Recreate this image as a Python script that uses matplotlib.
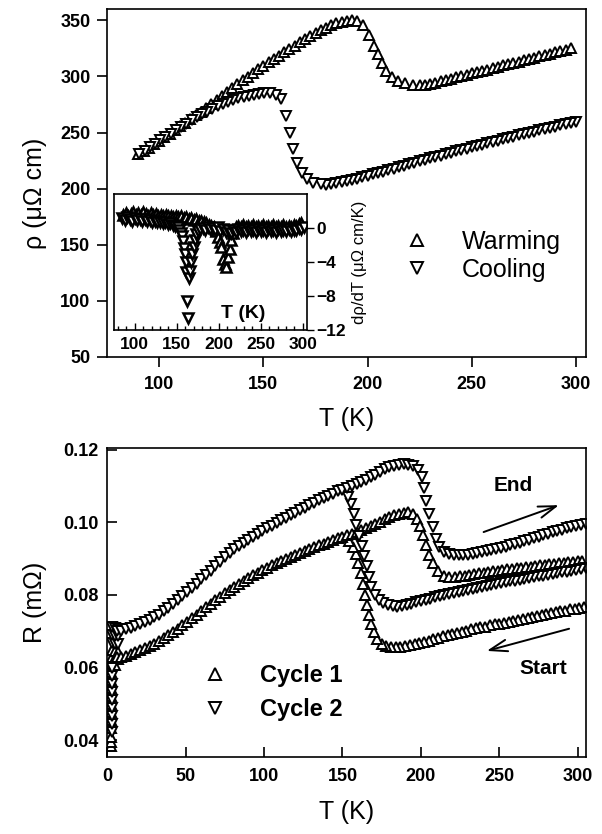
import numpy as np
import matplotlib
matplotlib.use("Agg")
import matplotlib.pyplot as plt
from matplotlib.ticker import MultipleLocator, FormatStrFormatter

plt.rcParams["font.family"] = ["Liberation Sans", "DejaVu Sans"]

# --- top panel: resistivity (T [K], rho [uOhm cm]) ---------------------------
warming = [(90, 230.5), (92.5, 233.5), (95, 236.5), (97.5, 239.5), (100, 242.5), (102.5, 245.8),
           (105, 249), (107.5, 252.3), (110, 255.5), (112.5, 258.8), (115, 262), (117.5, 265.3),
           (120, 268.5), (122.5, 272), (125, 275.5), (127.5, 279), (130, 282.5), (132.5, 286),
           (135, 289.5), (137.5, 293), (140, 296.5), (142.5, 299.8), (145, 303), (147.5, 306.3),
           (150, 309.5), (152.5, 312.5), (155, 315.5), (157.5, 318.5), (160, 321.5), (162.5, 324.5),
           (165, 327.5), (167.5, 330.3), (170, 333), (172.5, 335.8), (175, 338.5), (177.5, 341),
           (180, 343.5), (182.5, 345.5), (185, 347.3), (187.5, 348.7), (190, 349.7), (192.5, 350),
           (195, 349.5), (198, 346), (200.5, 337), (203, 327), (205, 320), (207, 312), (209, 305),
           (211.5, 299.5), (214.5, 296), (218, 293.8), (222, 292.8), (225, 292.5), (227.5, 292.8),
           (230, 293.4), (232.5, 294.5), (235, 295.7), (237.5, 296.8), (240, 298), (242.5, 299.2),
           (245, 300.4), (247.5, 301.5), (250, 302.7), (252.5, 303.9), (255, 305.1), (257.5, 306.2),
           (260, 307.4), (262.5, 308.6), (265, 309.8), (267.5, 311), (270, 312.1), (272.5, 313.3),
           (275, 314.5), (277.5, 315.7), (280, 316.8), (282.5, 318), (285, 319.2), (287.5, 320.4),
           (290, 321.5), (292.5, 322.7), (295, 323.9), (297.5, 325)]

cooling = [(300, 259.5), (297.5, 258.5), (295, 257.4), (292.5, 256.4), (290, 255.3), (287.5, 254.2),
           (285, 253.1), (282.5, 252), (280, 250.9), (277.5, 249.8), (275, 248.7), (272.5, 247.5),
           (270, 246.4), (267.5, 245.2), (265, 244), (262.5, 242.8), (260, 241.6), (257.5, 240.4),
           (255, 239.2), (252.5, 238), (250, 236.8), (247.5, 235.6), (245, 234.4), (242.5, 233.2),
           (240, 232), (237.5, 230.8), (235, 229.5), (232.5, 228.3), (230, 227), (227.5, 225.7),
           (225, 224.4), (222.5, 223.1), (220, 221.8), (217.5, 220.5), (215, 219.2), (212.5, 217.9),
           (210, 216.6), (207.5, 215.3), (205, 214), (202.5, 212.7), (200, 211.4), (197.5, 210.1),
           (195, 208.9), (192.5, 207.7), (190, 206.6), (187.5, 205.6), (185, 204.8), (182.5, 204.1),
           (180, 203.7), (177.5, 203.8), (174, 205.5), (171, 208.5), (168.4, 214), (166, 223),
           (164.4, 235), (162.8, 250), (161, 265), (158.5, 280), (156, 283.8), (153, 285),
           (150.5, 285), (148, 284.6), (145.5, 283.9), (143, 283), (140.5, 281.9), (138, 280.6),
           (135.5, 279.1), (133, 277.4), (130.5, 275.5), (128, 273.4), (125.5, 271.1), (123, 268.7),
           (120.5, 266.2), (118, 263.5), (115.5, 260.8), (113, 258), (110.5, 255), (108, 252),
           (105.5, 249), (103, 246), (100.5, 243), (98, 240), (95.5, 237), (93, 234), (90.5, 231)]

# --- inset: d rho / dT (T [K], uOhm cm/K) ------------------------------------
dwarm = [(86, 1.6), (89, 1.8), (92, 1.5), (95, 1.7), (98, 1.9), (101, 1.6), (104, 1.8), (107, 1.6),
         (110, 1.9), (113, 1.7), (116, 1.5), (119, 1.8), (122, 1.6), (125, 1.7), (128, 1.5),
         (131, 1.6), (134, 1.4), (137, 1.6), (140, 1.4), (143, 1.5), (146, 1.3), (149, 1.5),
         (152, 1.3), (155, 1.4), (158, 1.2), (161, 1.3), (164, 1.1), (167, 1.2), (170, 1.0),
         (173, 1.1), (176, 0.9), (179, 0.9), (182, 0.8), (185, 0.6), (188, 0.4), (191, 0.3),
         (194, 0.1), (197, -0.3), (199.5, -1.0), (201.2, -1.6), (203.2, -2.2), (205.1, -3.6),
         (207, -4.2), (209.1, -4.6), (211, -3.4), (213, -2.4), (215, -1.4), (217, -0.6),
         (220, 0.1), (223, 0.3), (226, 0.2), (229, 0.4), (232, 0.1), (235, 0.3), (238, 0.2),
         (241, 0.4), (244, 0.1), (247, 0.3), (250, 0.2), (253, 0.4), (256, 0.2), (259, 0.3),
         (262, 0.1), (265, 0.4), (268, 0.2), (271, 0.3), (274, 0.2), (277, 0.4), (280, 0.1),
         (283, 0.3), (286, 0.2), (289, 0.4), (292, 0.3), (295, 0.5), (298, 0.6)]

dcool = [(85, 1.2), (88, 1.0), (91, 1.3), (94, 1.1), (97, 0.9), (100, 1.2), (103, 1.0), (106, 1.1),
         (109, 0.9), (112, 1.1), (115, 0.9), (118, 1.0), (121, 0.8), (124, 0.9), (127, 0.7),
         (130, 0.8), (133, 0.6), (136, 0.7), (139, 0.5), (142, 0.6), (145, 0.4), (148, 0.3),
         (151, 0.1), (153, -0.2), (154.5, -0.5), (156, -0.9), (157.5, -1.5), (158.5, -2.3),
         (159.5, -3.0), (160.5, -4.0), (161.5, -5.2), (162.5, -8.5), (163.5, -10.5), (164.5, -5.8),
         (165.5, -5.0), (167, -4.0), (168.5, -3.0), (170, -2.2), (171.5, -1.4), (173, -0.7),
         (175, -0.3), (178, -0.1), (181, 0.0), (184, -0.2), (187, 0.1), (190, -0.1), (193, 0.0),
         (196, -0.2), (199, 0.1), (202, -0.3), (205, -0.1), (208, -0.4), (211, -0.2), (214, -0.5),
         (217, -0.2), (220, -0.4), (223, -0.1), (226, -0.3), (229, -0.2), (232, -0.4), (235, -0.1),
         (238, -0.3), (241, -0.2), (244, -0.4), (247, -0.1), (250, -0.3), (253, -0.2), (256, -0.4),
         (259, -0.1), (262, -0.3), (265, -0.2), (268, -0.4), (271, -0.1), (274, -0.3), (277, -0.2),
         (280, -0.3), (283, -0.1), (286, -0.3), (289, -0.2), (292, -0.2), (295, 0.0), (298, -0.1),
         (302, 0.1)]

# --- bottom panel: resistance (T [K], R [mOhm]) ------------------------------
# cycle 1 (up triangles)
c1_cool = [(304, 0.0767), (301, 0.0765), (298, 0.0762), (295, 0.0760), (292, 0.0757), (289, 0.0755),
           (286, 0.0752), (283, 0.0750), (280, 0.0747), (277, 0.0744), (274, 0.0742), (271, 0.0739),
           (268, 0.0737), (265, 0.0734), (262, 0.0731), (259, 0.0729), (256, 0.0726), (253, 0.0724),
           (250, 0.0721), (247, 0.0719), (244, 0.0716), (241, 0.0713), (238, 0.0711), (235, 0.0708),
           (232, 0.0705), (229, 0.0702), (226, 0.0699), (223, 0.0696), (220, 0.0693), (217, 0.0689),
           (214, 0.0686), (211, 0.0682), (208, 0.0678), (205, 0.0674), (202, 0.0670), (199, 0.0667),
           (196, 0.0664), (193, 0.0661), (190, 0.0659), (187, 0.0657), (184, 0.0656), (181, 0.0656),
           (178, 0.0659), (175, 0.0666), (172, 0.0680), (170, 0.0698), (168.3, 0.0720),
           (167, 0.0745), (165.8, 0.0772), (164.5, 0.0800), (163.2, 0.0830), (161.8, 0.0860),
           (160.2, 0.0888), (158.5, 0.0912), (156.5, 0.0932), (154, 0.0948)]

c1_low = [(2.5, 0.0385), (2.5, 0.0395), (2.5, 0.0410), (2.5, 0.0433), (2.5, 0.0455), (2.5, 0.0477),
          (2.5, 0.0500), (2.5, 0.0522), (2.5, 0.0544), (2.5, 0.0566), (2.5, 0.0589),
          (3, 0.0610), (5, 0.0608), (3, 0.0628), (5, 0.0626), (7, 0.0624), (3, 0.0648),
          (5, 0.0646), (7, 0.0644),
          (6, 0.0628), (9, 0.0630), (12, 0.0633), (15, 0.0638), (18, 0.0643), (21, 0.0648),
          (24, 0.0654), (27, 0.0660), (30, 0.0666), (33, 0.0673), (36, 0.0681), (39, 0.0689),
          (42, 0.0698), (45, 0.0707), (48, 0.0716), (51, 0.0726), (54, 0.0736), (57, 0.0746),
          (60, 0.0756), (63, 0.0766), (66, 0.0776), (69, 0.0785), (72, 0.0795), (75, 0.0804),
          (78, 0.0813), (81, 0.0822), (84, 0.0831), (87, 0.0839), (90, 0.0847), (93, 0.0854),
          (96, 0.0861), (99, 0.0868), (102, 0.0875), (105, 0.0881), (108, 0.0887), (111, 0.0893),
          (114, 0.0899), (117, 0.0905), (120, 0.0910), (123, 0.0915), (126, 0.0920), (129, 0.0926),
          (132, 0.0931), (135, 0.0936), (138, 0.0941), (141, 0.0946), (144, 0.0951), (147, 0.0956),
          (150, 0.0960), (153, 0.0964)]

c1_warm = [(156, 0.0968), (159, 0.0973), (162, 0.0978), (165, 0.0984), (168, 0.0990), (171, 0.0996),
           (174, 0.1002), (177, 0.1008), (180, 0.1014), (183, 0.1019), (186, 0.1023), (189, 0.1026),
           (192, 0.1027), (195, 0.1024), (197.5, 0.1010), (199.5, 0.0990), (201.5, 0.0965),
           (203.5, 0.0937), (205.5, 0.0910), (208, 0.0887), (211, 0.0866), (214.5, 0.0853),
           (218, 0.0850), (222, 0.0850), (225, 0.0851), (228, 0.0853), (231, 0.0855), (234, 0.0857),
           (237, 0.0859), (240, 0.0861), (243, 0.0863), (246, 0.0865), (249, 0.0866), (252, 0.0868),
           (255, 0.0870), (258, 0.0872), (261, 0.0873), (264, 0.0875), (267, 0.0877), (270, 0.0878),
           (273, 0.0880), (276, 0.0881), (279, 0.0883), (282, 0.0884), (285, 0.0886), (288, 0.0887),
           (291, 0.0888), (294, 0.0890), (297, 0.0891), (300, 0.0892), (303, 0.0893)]

# cycle 2 (down triangles)
c2_cool = [(305, 0.0873), (302, 0.0871), (299, 0.0869), (296, 0.0867), (293, 0.0864), (290, 0.0862),
           (287, 0.0860), (284, 0.0858), (281, 0.0855), (278, 0.0853), (275, 0.0851), (272, 0.0849),
           (269, 0.0846), (266, 0.0844), (263, 0.0842), (260, 0.0839), (257, 0.0837), (254, 0.0835),
           (251, 0.0832), (248, 0.0830), (245, 0.0827), (242, 0.0825), (239, 0.0822), (236, 0.0820),
           (233, 0.0817), (230, 0.0814), (227, 0.0812), (224, 0.0809), (221, 0.0806), (218, 0.0803),
           (215, 0.0800), (212, 0.0797), (209, 0.0794), (206, 0.0790), (203, 0.0787), (200, 0.0783),
           (197, 0.0780), (194, 0.0776), (191, 0.0773), (188, 0.0770), (185, 0.0768), (182, 0.0769),
           (179, 0.0773), (176, 0.0779), (173, 0.0787), (170.5, 0.0800), (168.5, 0.0822),
           (167, 0.0850), (165.5, 0.0880), (164, 0.0908), (162.3, 0.0935), (160.5, 0.0962),
           (158.8, 0.0992), (157.2, 0.1022), (155.5, 0.1050), (153.5, 0.1070)]

c2_low = [(3, 0.0422), (3, 0.0444), (3, 0.0466), (3, 0.0488), (3, 0.0510), (3, 0.0533),
          (3, 0.0555), (3, 0.0577), (3, 0.0600),
          (3, 0.0668), (5, 0.0666), (7, 0.0664), (3, 0.0690), (5, 0.0688), (7, 0.0686),
          (3, 0.0712), (5, 0.0710), (7, 0.0706),
          (6, 0.0700), (9, 0.0702), (12, 0.0705), (15, 0.0709), (18, 0.0714), (21, 0.0719),
          (24, 0.0725), (27, 0.0731), (30, 0.0738), (33, 0.0746), (36, 0.0755), (39, 0.0765),
          (42, 0.0775), (45, 0.0786), (48, 0.0797), (51, 0.0808), (54, 0.0819), (57, 0.0831),
          (60, 0.0843), (63, 0.0855), (66, 0.0867), (69, 0.0879), (72, 0.0891), (75, 0.0905),
          (78, 0.0916), (81, 0.0926), (84, 0.0935), (87, 0.0944), (90, 0.0952), (93, 0.0960),
          (96, 0.0968), (99, 0.0976), (102, 0.0984), (105, 0.0991), (108, 0.0998), (111, 0.1005),
          (114, 0.1012), (117, 0.1019), (120, 0.1026), (123, 0.1033), (126, 0.1040), (129, 0.1047),
          (132, 0.1054), (135, 0.1061), (138, 0.1067), (141, 0.1073), (144, 0.1079), (147, 0.1085),
          (150, 0.1090)]

c2_warm = [(153, 0.1095), (156, 0.1100), (159, 0.1105), (162, 0.1111), (165, 0.1117), (168, 0.1124),
           (171, 0.1131), (174, 0.1139), (177, 0.1146), (180, 0.1152), (183, 0.1156), (186, 0.1158),
           (189, 0.1159), (192, 0.1158), (195, 0.1155), (198, 0.1145), (200.5, 0.1125),
           (202, 0.1093), (203.5, 0.1058), (205.5, 0.1022), (207.5, 0.0987), (209.5, 0.0955),
           (211.5, 0.0933), (214.5, 0.0919), (218, 0.0913), (221, 0.0910), (224, 0.0909),
           (227, 0.0909), (230, 0.0910), (233, 0.0912), (236, 0.0914), (239, 0.0917), (242, 0.0920),
           (245, 0.0923), (248, 0.0926), (251, 0.0929), (254, 0.0933), (257, 0.0936), (260, 0.0940),
           (263, 0.0944), (266, 0.0948), (269, 0.0952), (272, 0.0956), (275, 0.0960), (278, 0.0964),
           (281, 0.0968), (284, 0.0972), (287, 0.0976), (290, 0.0979), (293, 0.0983), (296, 0.0986),
           (299, 0.0989), (302, 0.0992), (305, 0.0995)]

MK = dict(ls="none", mfc="white", mec="black", ms=7.6, mew=1.4, clip_on=True)
MK_IN = dict(MK, ms=7.0, mew=1.8)


def xy(pairs):
    a = np.array(pairs, dtype=float)
    return a[:, 0], a[:, 1]


def bold_ticks(ax, size=13):
    for lbl in ax.get_xticklabels() + ax.get_yticklabels():
        lbl.set_fontweight("bold")
        lbl.set_fontsize(size)


fig = plt.figure(figsize=(6.02, 8.34), dpi=100)
ax1 = fig.add_axes([0.178, 0.572, 0.796, 0.417])
ax2 = fig.add_axes([0.178, 0.0927, 0.796, 0.3696])
axin = fig.add_axes([0.189, 0.604, 0.321, 0.163])

for ax in (ax1, ax2, axin):
    for sp in ax.spines.values():
        sp.set_linewidth(1.2)

# =============================================================================
# top panel
# =============================================================================
hw, = ax1.plot(*xy(warming), marker="^", **MK)
hc, = ax1.plot(*xy(cooling), marker="v", **MK)
ax1.set_xlim(75, 305)
ax1.set_ylim(50, 360)
ax1.set_xticks([100, 150, 200, 250, 300])
ax1.set_yticks([50, 100, 150, 200, 250, 300, 350])
ax1.tick_params(direction="out", length=7, width=1.2, pad=7)
ax1.tick_params(axis="y", pad=5)
bold_ticks(ax1)
ax1.set_xlabel("T (K)", fontsize=18)
ax1.set_ylabel("ρ (μΩ cm)", fontsize=18)
ax1.xaxis.set_label_coords(0.5, -0.145)
ax1.yaxis.set_label_coords(-0.125, 0.47)
ax1.legend([hw, hc], ["Warming", "Cooling"], loc="upper left", bbox_to_anchor=(0.62, 0.365),
           frameon=False, fontsize=18, handlelength=1.0, handletextpad=1.3, labelspacing=0.15,
           borderpad=0, borderaxespad=0, markerscale=1.15, numpoints=1)

# inset
axin.plot(*xy(dwarm), marker="^", **MK_IN)
axin.plot(*xy(dcool), marker="v", **MK_IN)
axin.set_xlim(75, 305)
axin.set_ylim(-12, 4)
axin.set_xticks([100, 150, 200, 250, 300])
axin.xaxis.set_minor_locator(MultipleLocator(10))
axin.set_yticks([0, -4, -8, -12])
axin.yaxis.tick_right()
axin.yaxis.set_label_position("right")
axin.tick_params(axis="x", which="major", direction="in", length=5, width=1.0, pad=5)
axin.tick_params(axis="x", which="minor", direction="in", length=3, width=1.0)
axin.tick_params(axis="y", direction="out", length=5, width=1.0, pad=2)
bold_ticks(axin, 12.5)
axin.set_ylabel("dρ/dT (μΩ cm/K)", fontsize=12, labelpad=4)
axin.text(0.668, 0.125, "T (K)", transform=axin.transAxes, ha="center", va="center",
          fontsize=14, fontweight="bold")

# =============================================================================
# bottom panel
# =============================================================================
h1, = ax2.plot(*xy(c1_cool), marker="^", **MK)
ax2.plot(*xy(c1_low), marker="^", **MK)
ax2.plot(*xy(c1_warm), marker="^", **MK)
h2, = ax2.plot(*xy(c2_cool), marker="v", **MK)
ax2.plot(*xy(c2_low), marker="v", **MK)
ax2.plot(*xy(c2_warm), marker="v", **MK)
ax2.set_xlim(0, 305.5)
ax2.set_ylim(0.0355, 0.1203)
ax2.set_xticks([0, 50, 100, 150, 200, 250, 300])
ax2.set_yticks([0.04, 0.06, 0.08, 0.10, 0.12])
ax2.yaxis.set_major_formatter(FormatStrFormatter("%.2f"))
ax2.tick_params(direction="in", length=7, width=1.2, pad=8)
ax2.tick_params(axis="y", pad=6)
bold_ticks(ax2)
ax2.set_xlabel("T (K)", fontsize=18)
ax2.set_ylabel("R (mΩ)", fontsize=18)
ax2.xaxis.set_label_coords(0.5, -0.14)
ax2.yaxis.set_label_coords(-0.125, 0.5)
ax2.legend([h1, h2], ["Cycle 1", "Cycle 2"], loc="upper left", bbox_to_anchor=(0.2, 0.30),
           frameon=False, prop=dict(size=17, weight="bold"), handlelength=1.0,
           handletextpad=1.4, labelspacing=0.45, borderpad=0, borderaxespad=0,
           markerscale=1.15, numpoints=1)

arrow = dict(arrowstyle="->,head_length=0.9,head_width=0.3", lw=1.4, color="black",
             shrinkA=0, shrinkB=0, mutation_scale=14)
ax2.annotate("", xy=(288, 0.1047), xytext=(240, 0.0973), arrowprops=arrow)
ax2.annotate("", xy=(242, 0.0646), xytext=(294.5, 0.0707), arrowprops=arrow)
ax2.text(259, 0.110, "End", fontsize=15, fontweight="bold", ha="center", va="center")
ax2.text(278, 0.0597, "Start", fontsize=15, fontweight="bold", ha="center", va="center")

fig.savefig("out.png", dpi=100)
